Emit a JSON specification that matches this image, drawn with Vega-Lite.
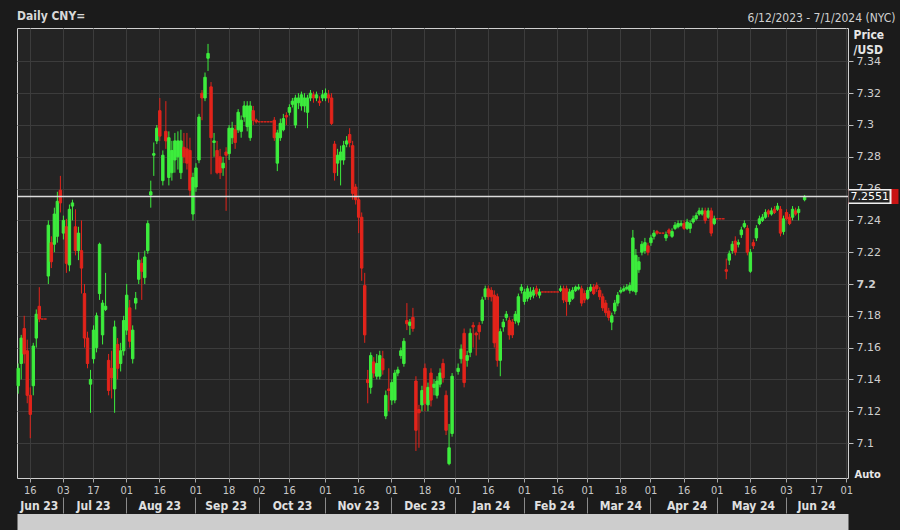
{
"$schema":"https://vega.github.io/schema/vega-lite/v6.json",
"width":831,"height":450,
"autosize":{"type":"none"},
"padding":{"left":17,"top":28,"right":52,"bottom":52},
"background":"#1b1b1b",
"config":{"view":{"fill":"#242424","stroke":"#d0d0d0","strokeWidth":1}},
"title":{"text":"Daily CNY=","anchor":"start","frame":"group","fontSize":12,"fontWeight":"bold","color":"#d8d8d8","font":"'DejaVu Sans Condensed','Liberation Sans Narrow','DejaVu Sans'","offset":0,"dy":12},
"data":{"values":[
{"d":"2023-06-12","o":7.136,"h":7.150,"l":7.131,"c":7.147},
{"d":"2023-06-13","o":7.150,"h":7.168,"l":7.140,"c":7.166},
{"d":"2023-06-14","o":7.172,"h":7.180,"l":7.150,"c":7.156},
{"d":"2023-06-15","o":7.158,"h":7.165,"l":7.125,"c":7.130},
{"d":"2023-06-16","o":7.130,"h":7.135,"l":7.103,"c":7.118},
{"d":"2023-06-19","o":7.136,"h":7.163,"l":7.130,"c":7.161},
{"d":"2023-06-20","o":7.166,"h":7.184,"l":7.160,"c":7.181},
{"d":"2023-06-21","o":7.186,"h":7.198,"l":7.176,"c":7.178},
{"d":"2023-06-22","o":7.178,"h":7.178,"l":7.178,"c":7.178},
{"d":"2023-06-23","o":7.178,"h":7.178,"l":7.178,"c":7.178},
{"d":"2023-06-26","o":7.205,"h":7.240,"l":7.200,"c":7.237},
{"d":"2023-06-27","o":7.226,"h":7.230,"l":7.210,"c":7.214},
{"d":"2023-06-28","o":7.225,"h":7.248,"l":7.220,"c":7.244},
{"d":"2023-06-29","o":7.230,"h":7.258,"l":7.226,"c":7.252},
{"d":"2023-06-30","o":7.259,"h":7.268,"l":7.245,"c":7.251},
{"d":"2023-07-03","o":7.232,"h":7.243,"l":7.228,"c":7.240},
{"d":"2023-07-04","o":7.236,"h":7.241,"l":7.207,"c":7.213},
{"d":"2023-07-05","o":7.212,"h":7.250,"l":7.208,"c":7.247},
{"d":"2023-07-06","o":7.249,"h":7.253,"l":7.240,"c":7.251},
{"d":"2023-07-07","o":7.236,"h":7.247,"l":7.218,"c":7.221},
{"d":"2023-07-10","o":7.221,"h":7.236,"l":7.215,"c":7.232},
{"d":"2023-07-11","o":7.221,"h":7.240,"l":7.194,"c":7.210},
{"d":"2023-07-12","o":7.194,"h":7.200,"l":7.160,"c":7.166},
{"d":"2023-07-13","o":7.166,"h":7.170,"l":7.147,"c":7.150},
{"d":"2023-07-14","o":7.137,"h":7.146,"l":7.119,"c":7.140},
{"d":"2023-07-17","o":7.153,"h":7.174,"l":7.150,"c":7.171},
{"d":"2023-07-18","o":7.160,"h":7.182,"l":7.157,"c":7.180},
{"d":"2023-07-19","o":7.194,"h":7.226,"l":7.190,"c":7.225},
{"d":"2023-07-20","o":7.168,"h":7.190,"l":7.162,"c":7.188},
{"d":"2023-07-21","o":7.184,"h":7.207,"l":7.183,"c":7.186},
{"d":"2023-07-24","o":7.152,"h":7.156,"l":7.130,"c":7.133},
{"d":"2023-07-25","o":7.147,"h":7.158,"l":7.128,"c":7.141},
{"d":"2023-07-26","o":7.134,"h":7.177,"l":7.119,"c":7.173},
{"d":"2023-07-27","o":7.162,"h":7.166,"l":7.140,"c":7.147},
{"d":"2023-07-28","o":7.150,"h":7.163,"l":7.145,"c":7.158},
{"d":"2023-07-31","o":7.158,"h":7.180,"l":7.155,"c":7.177},
{"d":"2023-08-01","o":7.171,"h":7.200,"l":7.168,"c":7.193},
{"d":"2023-08-02","o":7.185,"h":7.190,"l":7.160,"c":7.164},
{"d":"2023-08-03","o":7.153,"h":7.174,"l":7.150,"c":7.171},
{"d":"2023-08-04","o":7.188,"h":7.195,"l":7.184,"c":7.191},
{"d":"2023-08-07","o":7.203,"h":7.220,"l":7.200,"c":7.215},
{"d":"2023-08-08","o":7.213,"h":7.216,"l":7.190,"c":7.208},
{"d":"2023-08-09","o":7.204,"h":7.221,"l":7.200,"c":7.217},
{"d":"2023-08-10","o":7.221,"h":7.240,"l":7.219,"c":7.238},
{"d":"2023-08-11","o":7.256,"h":7.265,"l":7.248,"c":7.258},
{"d":"2023-08-14","o":7.281,"h":7.289,"l":7.268,"c":7.282},
{"d":"2023-08-15","o":7.290,"h":7.300,"l":7.288,"c":7.298},
{"d":"2023-08-16","o":7.309,"h":7.317,"l":7.290,"c":7.293},
{"d":"2023-08-17","o":7.265,"h":7.284,"l":7.262,"c":7.281},
{"d":"2023-08-18","o":7.296,"h":7.315,"l":7.285,"c":7.290},
{"d":"2023-08-21","o":7.267,"h":7.296,"l":7.262,"c":7.292},
{"d":"2023-08-22","o":7.270,"h":7.290,"l":7.265,"c":7.284},
{"d":"2023-08-23","o":7.278,"h":7.295,"l":7.270,"c":7.290},
{"d":"2023-08-24","o":7.280,"h":7.296,"l":7.272,"c":7.290},
{"d":"2023-08-25","o":7.270,"h":7.297,"l":7.266,"c":7.290},
{"d":"2023-08-28","o":7.286,"h":7.295,"l":7.276,"c":7.280},
{"d":"2023-08-29","o":7.285,"h":7.295,"l":7.272,"c":7.276},
{"d":"2023-08-30","o":7.284,"h":7.292,"l":7.255,"c":7.259},
{"d":"2023-08-31","o":7.244,"h":7.270,"l":7.240,"c":7.267},
{"d":"2023-09-01","o":7.261,"h":7.276,"l":7.258,"c":7.273},
{"d":"2023-09-04","o":7.278,"h":7.307,"l":7.276,"c":7.305},
{"d":"2023-09-05","o":7.320,"h":7.322,"l":7.303,"c":7.317},
{"d":"2023-09-06","o":7.317,"h":7.333,"l":7.315,"c":7.330},
{"d":"2023-09-07","o":7.342,"h":7.351,"l":7.334,"c":7.345},
{"d":"2023-09-08","o":7.324,"h":7.327,"l":7.269,"c":7.292},
{"d":"2023-09-11","o":7.289,"h":7.295,"l":7.280,"c":7.290},
{"d":"2023-09-12","o":7.284,"h":7.290,"l":7.269,"c":7.270},
{"d":"2023-09-13","o":7.280,"h":7.285,"l":7.266,"c":7.270},
{"d":"2023-09-14","o":7.273,"h":7.280,"l":7.268,"c":7.276},
{"d":"2023-09-15","o":7.283,"h":7.286,"l":7.246,"c":7.281},
{"d":"2023-09-18","o":7.282,"h":7.300,"l":7.278,"c":7.298},
{"d":"2023-09-19","o":7.292,"h":7.302,"l":7.288,"c":7.298},
{"d":"2023-09-20","o":7.297,"h":7.300,"l":7.285,"c":7.289},
{"d":"2023-09-21","o":7.297,"h":7.310,"l":7.295,"c":7.308},
{"d":"2023-09-22","o":7.296,"h":7.306,"l":7.292,"c":7.303},
{"d":"2023-09-25","o":7.305,"h":7.315,"l":7.302,"c":7.312},
{"d":"2023-09-26","o":7.299,"h":7.315,"l":7.296,"c":7.312},
{"d":"2023-09-27","o":7.292,"h":7.315,"l":7.290,"c":7.312},
{"d":"2023-09-28","o":7.309,"h":7.312,"l":7.300,"c":7.303},
{"d":"2023-09-29","o":7.303,"h":7.304,"l":7.301,"c":7.302},
{"d":"2023-10-02","o":7.302,"h":7.302,"l":7.302,"c":7.302},
{"d":"2023-10-03","o":7.302,"h":7.302,"l":7.302,"c":7.302},
{"d":"2023-10-04","o":7.302,"h":7.302,"l":7.302,"c":7.302},
{"d":"2023-10-05","o":7.302,"h":7.302,"l":7.302,"c":7.302},
{"d":"2023-10-06","o":7.302,"h":7.302,"l":7.302,"c":7.302},
{"d":"2023-10-09","o":7.303,"h":7.305,"l":7.290,"c":7.292},
{"d":"2023-10-10","o":7.276,"h":7.297,"l":7.271,"c":7.295},
{"d":"2023-10-11","o":7.292,"h":7.304,"l":7.290,"c":7.301},
{"d":"2023-10-12","o":7.297,"h":7.307,"l":7.296,"c":7.304},
{"d":"2023-10-13","o":7.306,"h":7.308,"l":7.300,"c":7.305},
{"d":"2023-10-16","o":7.308,"h":7.313,"l":7.306,"c":7.311},
{"d":"2023-10-17","o":7.313,"h":7.317,"l":7.311,"c":7.315},
{"d":"2023-10-18","o":7.300,"h":7.319,"l":7.298,"c":7.317},
{"d":"2023-10-19","o":7.314,"h":7.320,"l":7.310,"c":7.317},
{"d":"2023-10-20","o":7.312,"h":7.321,"l":7.309,"c":7.319},
{"d":"2023-10-23","o":7.312,"h":7.320,"l":7.308,"c":7.317},
{"d":"2023-10-24","o":7.308,"h":7.319,"l":7.298,"c":7.317},
{"d":"2023-10-25","o":7.317,"h":7.322,"l":7.315,"c":7.320},
{"d":"2023-10-26","o":7.319,"h":7.321,"l":7.314,"c":7.317},
{"d":"2023-10-27","o":7.317,"h":7.321,"l":7.315,"c":7.319},
{"d":"2023-10-30","o":7.315,"h":7.318,"l":7.312,"c":7.314},
{"d":"2023-10-31","o":7.317,"h":7.322,"l":7.315,"c":7.319},
{"d":"2023-11-01","o":7.317,"h":7.323,"l":7.315,"c":7.320},
{"d":"2023-11-02","o":7.319,"h":7.322,"l":7.314,"c":7.317},
{"d":"2023-11-03","o":7.317,"h":7.320,"l":7.300,"c":7.301},
{"d":"2023-11-06","o":7.288,"h":7.290,"l":7.265,"c":7.270},
{"d":"2023-11-07","o":7.276,"h":7.285,"l":7.268,"c":7.281},
{"d":"2023-11-08","o":7.278,"h":7.287,"l":7.262,"c":7.283},
{"d":"2023-11-09","o":7.278,"h":7.290,"l":7.275,"c":7.287},
{"d":"2023-11-10","o":7.288,"h":7.293,"l":7.286,"c":7.290},
{"d":"2023-11-13","o":7.294,"h":7.298,"l":7.286,"c":7.289},
{"d":"2023-11-14","o":7.287,"h":7.290,"l":7.253,"c":7.257},
{"d":"2023-11-15","o":7.261,"h":7.263,"l":7.250,"c":7.253},
{"d":"2023-11-16","o":7.253,"h":7.255,"l":7.232,"c":7.242},
{"d":"2023-11-17","o":7.242,"h":7.245,"l":7.202,"c":7.210},
{"d":"2023-11-20","o":7.199,"h":7.207,"l":7.163,"c":7.168},
{"d":"2023-11-21","o":7.140,"h":7.146,"l":7.125,"c":7.138},
{"d":"2023-11-22","o":7.135,"h":7.157,"l":7.131,"c":7.155},
{"d":"2023-11-23","o":7.151,"h":7.154,"l":7.141,"c":7.144},
{"d":"2023-11-24","o":7.142,"h":7.156,"l":7.140,"c":7.150},
{"d":"2023-11-27","o":7.142,"h":7.158,"l":7.140,"c":7.155},
{"d":"2023-11-28","o":7.153,"h":7.158,"l":7.143,"c":7.146},
{"d":"2023-11-29","o":7.117,"h":7.133,"l":7.115,"c":7.130},
{"d":"2023-11-30","o":7.134,"h":7.147,"l":7.120,"c":7.133},
{"d":"2023-12-01","o":7.127,"h":7.140,"l":7.124,"c":7.138},
{"d":"2023-12-04","o":7.127,"h":7.146,"l":7.125,"c":7.144},
{"d":"2023-12-05","o":7.144,"h":7.148,"l":7.142,"c":7.146},
{"d":"2023-12-06","o":7.155,"h":7.160,"l":7.153,"c":7.158},
{"d":"2023-12-07","o":7.150,"h":7.166,"l":7.148,"c":7.164},
{"d":"2023-12-08","o":7.177,"h":7.188,"l":7.171,"c":7.175},
{"d":"2023-12-11","o":7.174,"h":7.178,"l":7.168,"c":7.176},
{"d":"2023-12-12","o":7.179,"h":7.185,"l":7.170,"c":7.172},
{"d":"2023-12-13","o":7.139,"h":7.142,"l":7.095,"c":7.108},
{"d":"2023-12-14","o":7.121,"h":7.124,"l":7.097,"c":7.119},
{"d":"2023-12-15","o":7.124,"h":7.136,"l":7.120,"c":7.133},
{"d":"2023-12-18","o":7.147,"h":7.150,"l":7.120,"c":7.125},
{"d":"2023-12-19","o":7.124,"h":7.138,"l":7.120,"c":7.135},
{"d":"2023-12-20","o":7.144,"h":7.147,"l":7.123,"c":7.127},
{"d":"2023-12-21","o":7.135,"h":7.140,"l":7.130,"c":7.137},
{"d":"2023-12-22","o":7.130,"h":7.142,"l":7.128,"c":7.139},
{"d":"2023-12-25","o":7.137,"h":7.147,"l":7.135,"c":7.144},
{"d":"2023-12-26","o":7.150,"h":7.153,"l":7.138,"c":7.141},
{"d":"2023-12-27","o":7.130,"h":7.133,"l":7.105,"c":7.108},
{"d":"2023-12-28","o":7.087,"h":7.112,"l":7.086,"c":7.097},
{"d":"2023-12-29","o":7.106,"h":7.144,"l":7.104,"c":7.142},
{"d":"2024-01-01"},
{"d":"2024-01-02","o":7.145,"h":7.150,"l":7.143,"c":7.147},
{"d":"2024-01-03","o":7.153,"h":7.162,"l":7.150,"c":7.159},
{"d":"2024-01-04","o":7.169,"h":7.172,"l":7.135,"c":7.138},
{"d":"2024-01-05","o":7.152,"h":7.158,"l":7.148,"c":7.155},
{"d":"2024-01-08","o":7.157,"h":7.172,"l":7.154,"c":7.169},
{"d":"2024-01-09","o":7.174,"h":7.176,"l":7.160,"c":7.173},
{"d":"2024-01-10","o":7.169,"h":7.170,"l":7.155,"c":7.168},
{"d":"2024-01-11","o":7.174,"h":7.176,"l":7.165,"c":7.170},
{"d":"2024-01-12","o":7.177,"h":7.192,"l":7.175,"c":7.190},
{"d":"2024-01-15","o":7.192,"h":7.199,"l":7.190,"c":7.197},
{"d":"2024-01-16","o":7.197,"h":7.199,"l":7.190,"c":7.192},
{"d":"2024-01-17","o":7.196,"h":7.198,"l":7.189,"c":7.192},
{"d":"2024-01-18","o":7.193,"h":7.196,"l":7.160,"c":7.163},
{"d":"2024-01-19","o":7.192,"h":7.194,"l":7.148,"c":7.152},
{"d":"2024-01-22","o":7.152,"h":7.172,"l":7.142,"c":7.170},
{"d":"2024-01-23","o":7.173,"h":7.178,"l":7.170,"c":7.176},
{"d":"2024-01-24","o":7.179,"h":7.183,"l":7.177,"c":7.181},
{"d":"2024-01-25","o":7.177,"h":7.179,"l":7.165,"c":7.168},
{"d":"2024-01-26","o":7.176,"h":7.178,"l":7.166,"c":7.168},
{"d":"2024-01-29","o":7.177,"h":7.183,"l":7.175,"c":7.181},
{"d":"2024-01-30","o":7.176,"h":7.194,"l":7.174,"c":7.192},
{"d":"2024-01-31","o":7.196,"h":7.200,"l":7.194,"c":7.198},
{"d":"2024-02-01","o":7.189,"h":7.197,"l":7.187,"c":7.195},
{"d":"2024-02-02","o":7.191,"h":7.199,"l":7.189,"c":7.197},
{"d":"2024-02-05","o":7.192,"h":7.198,"l":7.190,"c":7.195},
{"d":"2024-02-06","o":7.193,"h":7.198,"l":7.191,"c":7.196},
{"d":"2024-02-07","o":7.197,"h":7.199,"l":7.192,"c":7.194},
{"d":"2024-02-08","o":7.193,"h":7.197,"l":7.191,"c":7.195},
{"d":"2024-02-09","o":7.195,"h":7.195,"l":7.195,"c":7.195},
{"d":"2024-02-12","o":7.195,"h":7.195,"l":7.195,"c":7.195},
{"d":"2024-02-13","o":7.195,"h":7.195,"l":7.195,"c":7.195},
{"d":"2024-02-14","o":7.195,"h":7.195,"l":7.195,"c":7.195},
{"d":"2024-02-15","o":7.195,"h":7.195,"l":7.195,"c":7.195},
{"d":"2024-02-16","o":7.195,"h":7.195,"l":7.195,"c":7.195},
{"d":"2024-02-19","o":7.196,"h":7.199,"l":7.195,"c":7.197},
{"d":"2024-02-20","o":7.197,"h":7.199,"l":7.188,"c":7.190},
{"d":"2024-02-21","o":7.197,"h":7.199,"l":7.180,"c":7.189},
{"d":"2024-02-22","o":7.189,"h":7.197,"l":7.187,"c":7.195},
{"d":"2024-02-23","o":7.191,"h":7.198,"l":7.190,"c":7.196},
{"d":"2024-02-26","o":7.196,"h":7.199,"l":7.195,"c":7.198},
{"d":"2024-02-27","o":7.197,"h":7.200,"l":7.196,"c":7.198},
{"d":"2024-02-28","o":7.197,"h":7.199,"l":7.186,"c":7.188},
{"d":"2024-02-29","o":7.194,"h":7.196,"l":7.188,"c":7.190},
{"d":"2024-03-01","o":7.191,"h":7.198,"l":7.190,"c":7.196},
{"d":"2024-03-04","o":7.196,"h":7.200,"l":7.195,"c":7.198},
{"d":"2024-03-05","o":7.198,"h":7.200,"l":7.193,"c":7.194},
{"d":"2024-03-06","o":7.199,"h":7.201,"l":7.195,"c":7.197},
{"d":"2024-03-07","o":7.196,"h":7.198,"l":7.190,"c":7.192},
{"d":"2024-03-08","o":7.192,"h":7.194,"l":7.183,"c":7.185},
{"d":"2024-03-11","o":7.188,"h":7.190,"l":7.180,"c":7.182},
{"d":"2024-03-12","o":7.183,"h":7.185,"l":7.177,"c":7.179},
{"d":"2024-03-13","o":7.176,"h":7.182,"l":7.171,"c":7.180},
{"d":"2024-03-14","o":7.183,"h":7.190,"l":7.181,"c":7.188},
{"d":"2024-03-15","o":7.188,"h":7.195,"l":7.186,"c":7.193},
{"d":"2024-03-18","o":7.195,"h":7.198,"l":7.194,"c":7.196},
{"d":"2024-03-19","o":7.196,"h":7.199,"l":7.195,"c":7.197},
{"d":"2024-03-20","o":7.197,"h":7.200,"l":7.196,"c":7.198},
{"d":"2024-03-21","o":7.196,"h":7.201,"l":7.194,"c":7.199},
{"d":"2024-03-22","o":7.196,"h":7.234,"l":7.195,"c":7.229},
{"d":"2024-03-25","o":7.195,"h":7.222,"l":7.193,"c":7.218},
{"d":"2024-03-26","o":7.209,"h":7.217,"l":7.207,"c":7.214},
{"d":"2024-03-27","o":7.220,"h":7.227,"l":7.218,"c":7.225},
{"d":"2024-03-28","o":7.221,"h":7.229,"l":7.219,"c":7.226},
{"d":"2024-03-29","o":7.224,"h":7.226,"l":7.218,"c":7.220},
{"d":"2024-04-01","o":7.226,"h":7.231,"l":7.224,"c":7.229},
{"d":"2024-04-02","o":7.230,"h":7.234,"l":7.228,"c":7.232},
{"d":"2024-04-03","o":7.233,"h":7.234,"l":7.231,"c":7.232},
{"d":"2024-04-04","o":7.232,"h":7.232,"l":7.232,"c":7.232},
{"d":"2024-04-05","o":7.232,"h":7.232,"l":7.232,"c":7.232},
{"d":"2024-04-08","o":7.229,"h":7.233,"l":7.227,"c":7.231},
{"d":"2024-04-09","o":7.234,"h":7.235,"l":7.230,"c":7.232},
{"d":"2024-04-10","o":7.230,"h":7.235,"l":7.229,"c":7.233},
{"d":"2024-04-11","o":7.235,"h":7.239,"l":7.234,"c":7.237},
{"d":"2024-04-12","o":7.236,"h":7.240,"l":7.235,"c":7.238},
{"d":"2024-04-15","o":7.237,"h":7.240,"l":7.236,"c":7.238},
{"d":"2024-04-16","o":7.238,"h":7.240,"l":7.234,"c":7.235},
{"d":"2024-04-17","o":7.235,"h":7.241,"l":7.234,"c":7.239},
{"d":"2024-04-18","o":7.235,"h":7.240,"l":7.232,"c":7.238},
{"d":"2024-04-19","o":7.239,"h":7.243,"l":7.238,"c":7.241},
{"d":"2024-04-22","o":7.241,"h":7.245,"l":7.240,"c":7.243},
{"d":"2024-04-23","o":7.244,"h":7.248,"l":7.243,"c":7.246},
{"d":"2024-04-24","o":7.244,"h":7.248,"l":7.243,"c":7.246},
{"d":"2024-04-25","o":7.246,"h":7.248,"l":7.238,"c":7.240},
{"d":"2024-04-26","o":7.242,"h":7.248,"l":7.241,"c":7.246},
{"d":"2024-04-29","o":7.246,"h":7.248,"l":7.230,"c":7.232},
{"d":"2024-04-30","o":7.238,"h":7.243,"l":7.237,"c":7.241},
{"d":"2024-05-01","o":7.241,"h":7.241,"l":7.241,"c":7.241},
{"d":"2024-05-02","o":7.241,"h":7.241,"l":7.241,"c":7.241},
{"d":"2024-05-03","o":7.241,"h":7.241,"l":7.241,"c":7.241},
{"d":"2024-05-06","o":7.209,"h":7.216,"l":7.203,"c":7.208},
{"d":"2024-05-07","o":7.215,"h":7.221,"l":7.212,"c":7.219},
{"d":"2024-05-08","o":7.221,"h":7.227,"l":7.219,"c":7.225},
{"d":"2024-05-09","o":7.227,"h":7.230,"l":7.218,"c":7.220},
{"d":"2024-05-10","o":7.225,"h":7.228,"l":7.223,"c":7.226},
{"d":"2024-05-13","o":7.231,"h":7.236,"l":7.229,"c":7.234},
{"d":"2024-05-14","o":7.236,"h":7.240,"l":7.235,"c":7.238},
{"d":"2024-05-15","o":7.235,"h":7.237,"l":7.218,"c":7.220},
{"d":"2024-05-16","o":7.208,"h":7.222,"l":7.207,"c":7.220},
{"d":"2024-05-17","o":7.226,"h":7.228,"l":7.222,"c":7.224},
{"d":"2024-05-20","o":7.229,"h":7.237,"l":7.227,"c":7.235},
{"d":"2024-05-21","o":7.238,"h":7.243,"l":7.237,"c":7.241},
{"d":"2024-05-22","o":7.240,"h":7.244,"l":7.239,"c":7.242},
{"d":"2024-05-23","o":7.242,"h":7.247,"l":7.241,"c":7.245},
{"d":"2024-05-24","o":7.246,"h":7.247,"l":7.242,"c":7.244},
{"d":"2024-05-27","o":7.244,"h":7.248,"l":7.243,"c":7.246},
{"d":"2024-05-28","o":7.247,"h":7.249,"l":7.244,"c":7.245},
{"d":"2024-05-29","o":7.247,"h":7.251,"l":7.246,"c":7.249},
{"d":"2024-05-30","o":7.247,"h":7.249,"l":7.230,"c":7.232},
{"d":"2024-05-31","o":7.233,"h":7.243,"l":7.231,"c":7.241},
{"d":"2024-06-03","o":7.245,"h":7.247,"l":7.240,"c":7.241},
{"d":"2024-06-04","o":7.242,"h":7.244,"l":7.237,"c":7.238},
{"d":"2024-06-05","o":7.242,"h":7.249,"l":7.240,"c":7.247},
{"d":"2024-06-06","o":7.246,"h":7.248,"l":7.243,"c":7.244},
{"d":"2024-06-07","o":7.245,"h":7.249,"l":7.240,"c":7.247},
{"d":"2024-06-10"},
{"d":"2024-06-11","o":7.253,"h":7.256,"l":7.252,"c":7.2551},
{"d":"2024-06-12"},{"d":"2024-06-13"},{"d":"2024-06-14"},{"d":"2024-06-17"},{"d":"2024-06-18"},{"d":"2024-06-19"},{"d":"2024-06-20"},{"d":"2024-06-21"},{"d":"2024-06-24"},{"d":"2024-06-25"},{"d":"2024-06-26"},{"d":"2024-06-27"},{"d":"2024-06-28"},{"d":"2024-07-01"}
]},
"layer":[
{"mark":{"type":"rule","strokeWidth":1},
 "encoding":{
  "x":{"field":"d","type":"ordinal","scale":{"type":"band","paddingInner":0.2,"paddingOuter":0},
       "axis":{"orient":"bottom","title":null,"values":["2023-06-16","2023-07-03","2023-07-17","2023-08-01","2023-08-16","2023-09-01","2023-09-18","2023-10-02","2023-10-16","2023-11-01","2023-11-16","2023-12-01","2023-12-18","2024-01-01","2024-01-16","2024-02-01","2024-02-16","2024-03-01","2024-03-18","2024-04-01","2024-04-16","2024-05-01","2024-05-16","2024-06-03","2024-06-17","2024-07-01"],
       "labelExpr":"utcFormat(toDate(datum.value),'%d')","labelAngle":0,"labelAlign":"center","labelBaseline":"top","grid":true,"gridColor":"#3c3c3c","gridWidth":1,"domain":false,"ticks":true,"tickSize":4,"tickColor":"#a8a8a8","labelColor":"#c8c8c8","labelFontSize":11,"labelFont":"'DejaVu Sans Condensed','Liberation Sans Narrow','DejaVu Sans'","labelPadding":2,"labelOverlap":false,"labelBound":false}},
  "y":{"field":"l","type":"quantitative","scale":{"domain":[7.078,7.361],"nice":false,"zero":false},
       "axis":{"orient":"right","values":[7.1,7.12,7.14,7.16,7.18,7.2,7.22,7.24,7.26,7.28,7.3,7.32,7.34],"format":".2~f","grid":true,"gridColor":"#3c3c3c","gridWidth":1,"domain":false,"tickSize":5,"tickColor":"#bdbdbd","labelColor":"#cfcfcf","labelFontSize":11,"labelFont":"DejaVu Sans","labelPadding":3,"labelOverlap":false,"labelBound":false,
       "labelFontWeight":{"condition":{"test":"abs(datum.value-7.2)<0.001","value":"bold"},"value":"normal"},
       "title":["Price","/USD"],"titleAngle":0,"titleAlign":"left","titleBaseline":"top","titleX":5,"titleY":1,"titleFontWeight":"bold","titleFontSize":12,"titleColor":"#e6e6e6","titleLineHeight":15,"titleFont":"'DejaVu Sans Condensed','Liberation Sans Narrow','DejaVu Sans'"}},
  "y2":{"field":"h"},
  "color":{"condition":{"test":"datum.c > datum.o","value":"#3ded3d"},"value":"#e3241b"}}},
{"mark":{"type":"bar","strokeWidth":1},
 "encoding":{
  "x":{"field":"d","type":"ordinal","scale":{"type":"band","paddingInner":0.2,"paddingOuter":0},
       "axis":{"orient":"bottom","title":null,"values":["2023-06-21","2023-07-17","2023-08-16","2023-09-15","2023-10-17","2023-11-16","2023-12-18","2024-01-17","2024-02-15","2024-03-18","2024-04-17","2024-05-17","2024-06-17"],
       "labelExpr":"utcFormat(toDate(datum.value),'%b %y')","labelAngle":0,"labelAlign":"center","labelBaseline":"top","grid":false,"domain":false,"ticks":false,"labelPadding":22,"labelColor":"#e0e0e0","labelFontSize":12,"labelFontWeight":"bold","labelFont":"'DejaVu Sans Condensed','Liberation Sans Narrow','DejaVu Sans'","labelOverlap":false,"labelBound":false}},
  "y":{"field":"o","type":"quantitative","scale":{"domain":[7.078,7.361],"nice":false,"zero":false},
       "axis":{"orient":"right","values":[7.2551],"labels":false,"grid":false,"domain":false,"tickSize":50,"tickWidth":15,"tickColor":"#c81414","title":null}},
  "y2":{"field":"c"},
  "fill":{"condition":{"test":"datum.c > datum.o","value":"#3ded3d"},"value":"#e3241b"},
  "stroke":{"condition":{"test":"datum.c > datum.o","value":"#3ded3d"},"value":"#e3241b"}}},
{"data":{"values":[{"p":7.2551}]},
 "mark":{"type":"rule","color":"#dcdcdc","strokeWidth":1.5},
 "encoding":{
  "y":{"field":"p","type":"quantitative","scale":{"domain":[7.078,7.361],"nice":false,"zero":false},
       "axis":{"orient":"right","values":[7.0805],"labelExpr":"'Auto'","ticks":false,"grid":false,"domain":false,"labelPadding":6,"labelColor":"#e8e8e8","labelFontWeight":"bold","labelFontSize":11,"labelFont":"'DejaVu Sans Condensed','Liberation Sans Narrow','DejaVu Sans'","title":null,"labelBound":false}}}},
{"mark":{"type":"rule","opacity":0},
 "encoding":{
  "x":{"field":"d","type":"ordinal","scale":{"type":"band","paddingInner":0.2,"paddingOuter":0},
       "axis":{"orient":"bottom","offset":19,"title":null,"values":["2023-07-03","2023-08-01","2023-09-01","2023-10-02","2023-11-01","2023-12-01","2024-01-01","2024-02-01","2024-03-01","2024-04-01","2024-05-01","2024-06-03"],"labels":false,"grid":false,"domain":false,"ticks":true,"tickSize":16,"tickColor":"#8a8a8a"}},
  "y":{"field":"c","type":"quantitative","scale":{"domain":[7.078,7.361],"nice":false,"zero":false},
       "axis":{"orient":"right","values":[7.2551],"labels":false,"grid":false,"domain":false,"tickSize":43,"tickWidth":15,"tickColor":"#f0f0f0","title":null}}}},
{"mark":{"type":"rule","opacity":0},
 "encoding":{
  "x":{"field":"d","type":"ordinal","scale":{"type":"band","paddingInner":0.2,"paddingOuter":0},
       "axis":{"orient":"top","labels":false,"ticks":false,"domain":false,"grid":false,"title":"6/12/2023 - 7/1/2024 (NYC)","titleX":878,"titleY":-7,"titleAlign":"right","titleAnchor":"end","titleBaseline":"alphabetic","titleFontSize":12,"titleFontWeight":"normal","titleColor":"#d0d0d0","titleFont":"'DejaVu Sans Condensed','Liberation Sans Narrow','DejaVu Sans'"}},
  "y":{"field":"c","type":"quantitative","scale":{"domain":[7.078,7.361],"nice":false,"zero":false},
       "axis":{"orient":"right","values":[7.2551],"format":".4f","grid":false,"domain":false,"tickSize":41,"tickWidth":12,"tickColor":"#222222","tickOffset":0,"labelPadding":-39,"labelColor":"#ffffff","labelFontSize":11,"labelFont":"DejaVu Sans","title":null,"labelBound":false}}}},
{"mark":{"type":"rule","opacity":0},
 "encoding":{
  "x":{"field":"d","type":"ordinal","scale":{"type":"band","paddingInner":0.2,"paddingOuter":0},
       "axis":{"orient":"bottom","offset":44,"labels":false,"ticks":false,"grid":false,"domain":true,"domainWidth":17,"domainColor":"#cdcdcd","title":null}}}}
],
"resolve":{"axis":{"x":"independent","y":"independent"}}
}
